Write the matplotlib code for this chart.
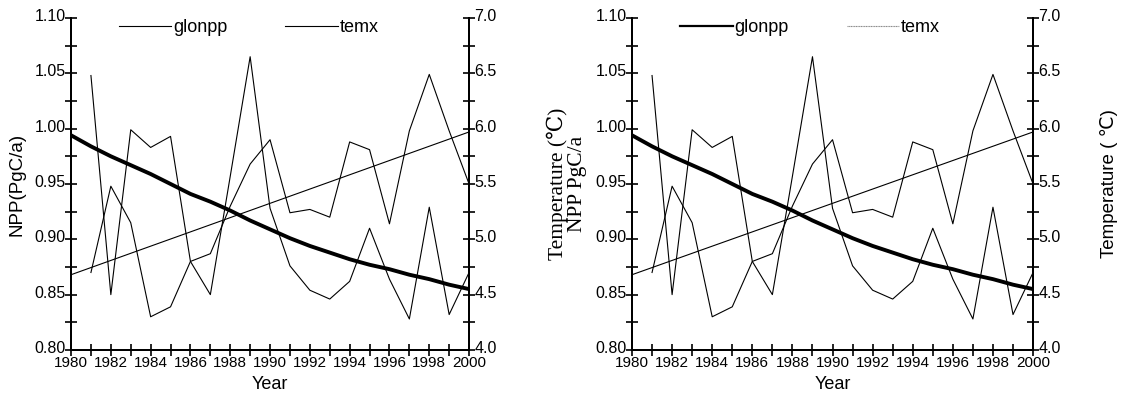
import matplotlib.pyplot as plt
import matplotlib.transforms as mtransforms
from matplotlib.ticker import MultipleLocator, FormatStrFormatter

# data
years = list(range(1981, 2001))
glonpp = [1.048, 0.850, 0.999, 0.983, 0.993, 0.880, 0.850, 0.957, 1.065, 0.928,
          0.876, 0.854, 0.846, 0.862, 0.910, 0.864, 0.828, 0.929, 0.832, 0.870]
temx = [4.70, 5.48, 5.15, 4.30, 4.39, 4.80, 4.87, 5.30, 5.68, 5.90,
        5.24, 5.27, 5.20, 5.88, 5.81, 5.14, 5.98, 6.49, 5.98, 5.50]
trend_years = list(range(1980, 2001))
npp_trend = [0.994, 0.984, 0.975, 0.967, 0.959, 0.950, 0.941, 0.934, 0.926, 0.917, 0.909,
             0.901, 0.894, 0.888, 0.882, 0.877, 0.873, 0.868, 0.864, 0.859, 0.855]
temp_trend_years = [1980, 2000]
temp_trend = [4.68, 5.97]

sans = ['Liberation Sans', 'DejaVu Sans']
serif = ['Liberation Serif', 'DejaVu Serif']
plt.rcParams['font.family'] = sans

fig = plt.figure(figsize=(11.33, 3.95), dpi=100)


def panel(rect, ylab, ylab_font, ylab_size, tlab, tlab_font, tlab_size, tpad, right_style):
    ax = fig.add_axes(rect)
    ax2 = ax.twinx()
    ax.set_xlim(1980, 2000)
    ax.set_ylim(0.80, 1.10)
    ax2.set_ylim(4.0, 7.0)

    ax.plot(years, glonpp, color='black', lw=0.8)
    ax.plot(trend_years, npp_trend, color='black', lw=2.8)
    ax2.plot(years, temx, color='black', lw=0.8)
    ax2.plot(temp_trend_years, temp_trend, color='black', lw=0.8)

    # legend handles
    if right_style:
        h1, = ax.plot([], [], color='black', lw=1.6)
        h2, = ax.plot([], [], color='#888888', lw=0.8, ls=(0, (1, 0.5)))
    else:
        h1, = ax.plot([], [], color='black', lw=0.8)
        h2, = ax.plot([], [], color='black', lw=0.8)
    ax.legend([h1, h2], ['glonpp', 'temx'], loc='upper left', bbox_to_anchor=(0.08, 1.045),
              ncol=2, frameon=False, fontsize=13, handlelength=2.9, handletextpad=0.1,
              columnspacing=3.2)

    for a in (ax, ax2):
        a.spines['top'].set_visible(False)
        for s in ('left', 'right', 'bottom'):
            a.spines[s].set_linewidth(1.4)

    ax.xaxis.set_major_locator(MultipleLocator(2))
    ax.xaxis.set_minor_locator(MultipleLocator(1))
    ax.yaxis.set_major_locator(MultipleLocator(0.05))
    ax.yaxis.set_minor_locator(MultipleLocator(0.025))
    ax.yaxis.set_major_formatter(FormatStrFormatter('%.2f'))
    ax2.yaxis.set_major_locator(MultipleLocator(0.5))
    ax2.yaxis.set_minor_locator(MultipleLocator(0.25))
    ax2.yaxis.set_major_formatter(FormatStrFormatter('%.1f'))

    for a in (ax, ax2):
        a.tick_params(which='both', direction='inout', width=1.2, labelsize=11.5, pad=0,
                      length=8)
    ax.tick_params(axis='x', labelsize=11)

    # nudge the y tick labels up a little so the bottom ones clear the year labels
    shift = mtransforms.ScaledTranslation(0, 3 / 100, fig.dpi_scale_trans)
    for a in (ax, ax2):
        for lab in a.get_yticklabels():
            lab.set_transform(lab.get_transform() + shift)

    ax.set_xlabel('Year', fontsize=13, labelpad=5)
    ax.set_ylabel(ylab, fontsize=ylab_size, family=ylab_font, labelpad=6)
    ax2.set_ylabel(tlab, fontsize=tlab_size, family=tlab_font, labelpad=tpad)
    return ax


panel([0.0627, 0.114, 0.3513, 0.8405], 'NPP(PgC/a)', sans, 13.5,
      'Temperature (\u2103)', serif, 15.5, 36, False)
panel([0.5578, 0.114, 0.3540, 0.8405], 'NPP PgC/a', serif, 15.5,
      'Temperature ( \u2103)', sans, 13.5, 28, True)

fig.savefig('out.png', dpi=100)
